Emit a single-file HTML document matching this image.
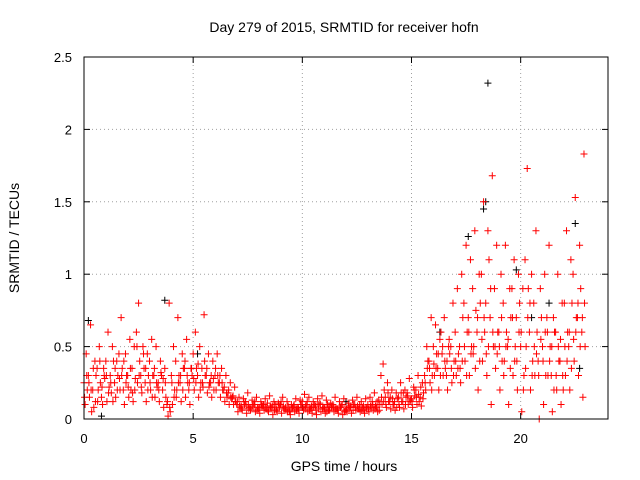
<!DOCTYPE html>
<html><head><meta charset="utf-8"><style>
body{margin:0;background:#fff}
svg{display:block;font-family:"Liberation Sans",Arial,sans-serif}
</style></head><body>
<svg id="chart" width="640" height="480">
<rect width="640" height="480" fill="#fff"/>
<text x="344" y="32" font-size="14" text-anchor="middle">Day 279 of 2015, SRMTID for receiver hofn</text>
<text x="344" y="471" font-size="14" text-anchor="middle">GPS time / hours</text>
<text transform="translate(19,238) rotate(-90)" font-size="14" text-anchor="middle">SRMTID / TECUs</text>
<g id="grid"></g><g id="marks"></g><g id="axes"></g>
</svg>
<script>
const xTicks=[0,5,10,15,20];
const yTicks=[0,0.5,1,1.5,2,2.5];
const yTickLabels=["0","0.5","1","1.5","2","2.5"];
const times=Array.from({length:115},(_,i)=>+(i*0.2).toFixed(1));
const seriesA=[0.25,0.3,0.2,0.35,0.15,0.4,0.3,0.25,0.45,0.2,0.3,0.35,0.6,0.3,0.25,0.4,0.3,0.25,0.2,0.1,0.3,0.4,0.25,0.35,0.2,0.45,0.3,0.35,0.3,0.25,0.3,0.25,0.2,0.18,0.15,0.1,0.09,0.12,0.08,0.1,0.07,0.09,0.11,0.08,0.06,0.1,0.07,0.05,0.09,0.08,0.12,0.1,0.07,0.09,0.11,0.08,0.06,0.1,0.07,0.09,0.06,0.08,0.1,0.07,0.09,0.1,0.12,0.08,0.3,0.15,0.12,0.1,0.15,0.12,0.18,0.14,0.2,0.15,0.3,0.4,0.5,0.35,0.45,0.3,0.5,0.6,0.5,0.8,0.7,0.9,0.6,1.0,0.8,0.7,0.9,0.6,0.8,0.5,0.9,0.7,0.5,1.1,0.6,0.8,0.4,0.5,0.7,0.3,0.6,0.4,0.8,0.5,1.0,0.7,0.6];
const seriesB=[0.1,0.15,0.08,0.2,0.1,0.12,0.18,0.15,0.2,0.1,0.15,0.12,0.25,0.18,0.12,0.2,0.15,0.12,0.08,0.02,0.1,0.2,0.12,0.15,0.1,0.2,0.15,0.22,0.18,0.15,0.2,0.15,0.12,0.1,0.1,0.05,0.06,0.04,0.07,0.05,0.04,0.06,0.05,0.03,0.05,0.04,0.06,0.03,0.05,0.04,0.06,0.05,0.04,0.03,0.05,0.04,0.06,0.05,0.04,0.03,0.05,0.04,0.06,0.05,0.04,0.05,0.06,0.05,0.1,0.08,0.07,0.06,0.08,0.07,0.1,0.08,0.1,0.09,0.2,0.25,0.3,0.2,0.3,0.2,0.25,0.3,0.25,0.4,0.3,0.5,0.2,0.4,0.3,0.1,0.35,0.2,0.4,0.1,0.3,0.2,0.05,0.5,0.2,0.3,0.0,0.1,0.3,0.05,0.2,0.1,0.3,0.2,0.4,0.3,0.15];
const seriesC=[0.45,0.65,0.4,0.5,0.35,0.6,0.5,0.4,0.7,0.45,0.55,0.5,0.8,0.5,0.45,0.55,0.5,0.4,0.35,0.8,0.5,0.7,0.45,0.55,0.35,0.6,0.5,0.72,0.45,0.4,0.45,0.35,0.3,0.25,0.22,0.15,0.14,0.18,0.13,0.15,0.12,0.14,0.16,0.12,0.11,0.15,0.12,0.1,0.14,0.13,0.17,0.15,0.12,0.14,0.16,0.13,0.11,0.15,0.12,0.14,0.11,0.13,0.15,0.12,0.14,0.15,0.18,0.13,0.38,0.25,0.2,0.18,0.25,0.2,0.28,0.22,0.3,0.25,0.5,0.7,0.65,0.55,0.7,0.5,0.8,0.9,1.0,1.2,1.1,1.3,1.0,1.5,1.3,1.68,1.2,1.0,1.2,0.9,1.1,1.0,0.9,1.73,1.0,1.3,0.9,1.0,1.2,0.7,1.0,0.8,1.3,1.1,1.53,1.2,1.83];
const seriesD=[0.2,0.05,0.3,0.25,0.28,0.22,0.4,0.3,0.35,0.3,0.2,0.28,0.4,0.35,0.3,0.3,0.22,0.3,0.15,0.05,0.2,0.3,0.35,0.25,0.3,0.35,0.25,0.3,0.25,0.2,0.25,0.2,0.15,0.14,0.12,0.08,0.1,0.07,0.1,0.08,0.09,0.07,0.08,0.1,0.08,0.07,0.09,0.08,0.07,0.1,0.09,0.08,0.1,0.07,0.08,0.1,0.09,0.07,0.08,0.06,0.08,0.1,0.07,0.08,0.07,0.08,0.09,0.1,0.2,0.12,0.1,0.14,0.12,0.15,0.13,0.16,0.12,0.18,0.4,0.3,0.45,0.6,0.35,0.45,0.4,0.45,0.7,0.6,0.5,0.75,0.8,0.6,1.1,0.5,0.6,0.4,0.6,0.7,0.5,0.8,0.3,0.9,0.4,0.6,0.7,0.3,0.5,0.6,0.4,0.2,0.6,0.8,0.7,0.9,0.5];
const seriesE=[0.15,0.25,0.35,0.12,0.22,0.3,0.25,0.35,0.28,0.4,0.22,0.18,0.5,0.22,0.35,0.25,0.35,0.2,0.28,0.12,0.25,0.15,0.3,0.4,0.25,0.28,0.38,0.25,0.35,0.3,0.35,0.3,0.22,0.2,0.16,0.12,0.07,0.09,0.06,0.12,0.08,0.1,0.06,0.09,0.07,0.12,0.08,0.06,0.1,0.07,0.08,0.12,0.09,0.06,0.1,0.07,0.09,0.08,0.06,0.1,0.07,0.09,0.08,0.1,0.06,0.07,0.1,0.12,0.15,0.1,0.15,0.12,0.1,0.18,0.16,0.12,0.15,0.22,0.25,0.35,0.38,0.45,0.5,0.4,0.35,0.4,0.35,0.5,0.6,0.45,0.7,0.55,0.45,0.9,0.5,0.5,0.3,0.55,0.7,0.4,0.6,0.35,0.8,0.5,0.3,0.4,0.6,0.5,0.3,0.55,0.5,0.6,0.55,0.8,0.7];
const seriesF=[0.3,0.2,0.12,0.4,0.3,0.18,0.12,0.2,0.3,0.25,0.35,0.2,0.3,0.45,0.2,0.15,0.25,0.32,0.25,0.08,0.15,0.25,0.2,0.3,0.35,0.25,0.2,0.4,0.22,0.28,0.3,0.25,0.18,0.15,0.12,0.09,0.12,0.1,0.09,0.06,0.1,0.08,0.09,0.06,0.1,0.09,0.05,0.07,0.06,0.1,0.07,0.06,0.08,0.1,0.07,0.05,0.08,0.07,0.09,0.05,0.09,0.06,0.09,0.06,0.08,0.09,0.07,0.06,0.12,0.18,0.14,0.08,0.18,0.1,0.12,0.2,0.17,0.14,0.35,0.2,0.35,0.3,0.4,0.55,0.3,0.35,0.4,0.3,0.45,0.35,0.4,0.7,0.5,0.6,0.45,0.7,0.5,0.35,0.4,0.6,0.2,0.7,0.3,0.45,0.55,0.6,0.4,0.2,0.5,0.3,0.4,0.35,0.6,0.5,0.8];
const blackT=[18.5,3.7,18.4,17.6,19.8,22.7,0.2,5.2,10,20.5,21.3,16.3,0.8,12,18.3,22.5];
const blackV=[2.32,0.82,1.5,1.26,1.03,0.35,0.68,0.45,0.08,0.7,0.8,0.6,0.02,0.12,1.45,1.35];

const X0=84,X1=608,Y0=419,Y1=57;
const xs=t=>X0+t/24*(X1-X0);
const ys=v=>Y0-v/2.5*(Y0-Y1);
const NS="http://www.w3.org/2000/svg";
function mk(tag,attrs,parent){const e=document.createElementNS(NS,tag);for(const k in attrs)e.setAttribute(k,attrs[k]);parent.appendChild(e);return e;}
const grid=document.getElementById('grid'),marks=document.getElementById('marks'),axes=document.getElementById('axes');
xTicks.forEach(t=>{
 const x=xs(t);
 if(t>0){const g=mk('line',{x1:x,x2:x,y1:Y1,y2:Y0,stroke:'#a0a0a0','stroke-dasharray':'1,3'},grid);
 
 }
 mk('line',{x1:x,x2:x,y1:Y0,y2:Y0-6,stroke:'#000'},axes);
 mk('line',{x1:x,x2:x,y1:Y1,y2:Y1+6,stroke:'#000'},axes);
 const l=mk('text',{x:x,y:443,'font-size':13,'text-anchor':'middle'},axes);l.textContent=t;
 
 
});
yTicks.forEach((v,i)=>{
 const y=ys(v);
 if(v>0&&v<2.5){const g=mk('line',{x1:X0,x2:X1,y1:y,y2:y,stroke:'#a0a0a0','stroke-dasharray':'1,3'},grid);
 
 }
 mk('line',{x1:X0,x2:X0+6,y1:y,y2:y,stroke:'#000'},axes);
 mk('line',{x1:X1,x2:X1-6,y1:y,y2:y,stroke:'#000'},axes);
 const l=mk('text',{x:72,y:y+5,'font-size':13,'text-anchor':'end'},axes);l.textContent=yTickLabels[i];
 
 
});
const fr=mk('rect',{x:X0,y:Y1,width:X1-X0,height:Y0-Y1,fill:'none',stroke:'#000'},axes);


function plus(t,v,color){
 const x=xs(t),y=ys(v);
 const p=mk('path',{d:`M${x-3.5},${y}h7M${x},${y-3.5}v7`,stroke:color,'stroke-width':1,fill:'none'},marks);
 
 
}
blackT.forEach((t,i)=>plus(t,blackV[i],'#000'));
[[seriesA,0],[seriesB,0.05],[seriesC,0.1],[seriesD,0.15],[seriesE,0.025],[seriesF,0.125]].forEach(([s,off])=>{
 times.forEach((t,i)=>plus(t+off,s[i],'#ff0000'));
});
</script>
</body></html>
